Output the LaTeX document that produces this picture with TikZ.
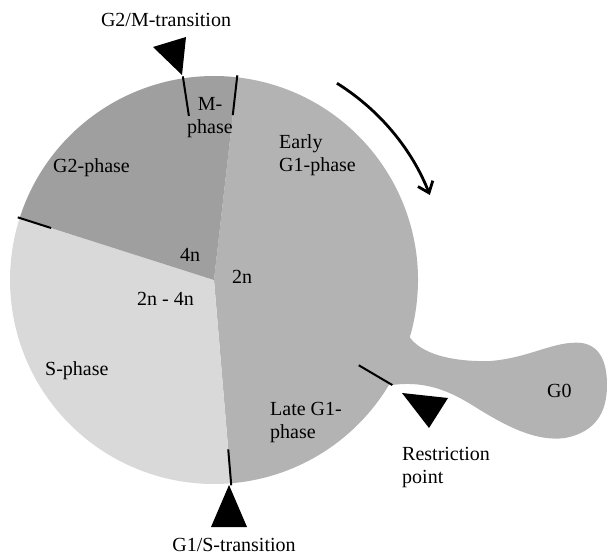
\documentclass[tikz,border=0pt]{standalone}
\usepackage{fontspec}
\setmainfont{Liberation Serif}
\usetikzlibrary{arrows.meta}
\definecolor{gdark}{HTML}{9F9F9F}
\definecolor{gmid}{HTML}{B3B3B3}
\definecolor{glight}{HTML}{D9D9D9}
\tikzset{
  lbl/.style={font=\fontsize{20bp}{23bp}\selectfont, inner sep=0pt, align=left},
  clbl/.style={font=\fontsize{20bp}{23bp}\selectfont, inner sep=0pt, align=center},
  tickline/.style={line width=2bp, black},
  marker/.style={fill=black, draw=none},
  cyclearrow/.style={line width=2.8bp, -{Straight Barb[length=10bp,width=16bp]}},
}
\begin{document}
\begin{tikzpicture}[x=1bp,y=-1bp]
\useasboundingbox (0,0) rectangle (607,557);
\coordinate (C) at (214,280);
% G0 lobe
\fill[gmid] (395,320) -- (412,340) .. controls (425,355) and (455,362) .. (490,361)
  .. controls (530,358) and (555,340) .. (582,343)
  .. controls (600,346) and (607,362) .. (607,385)
  .. controls (607,412) and (596,432) .. (565,438)
  .. controls (535,442) and (505,425) .. (480,410)
  .. controls (455,394) and (430,380) .. (392,385) -- (370,360) -- cycle;
% sectors
\fill[gmid] (C) -- ++(-83.5:204) arc (-83.5:85.2:204) -- cycle;
\fill[glight] (C) -- ++(85.2:204) arc (85.2:197.7:204) -- cycle;
\fill[gdark] (C) -- ++(197.7:204) arc (197.7:276.5:204) -- cycle;
% tick coordinates
\path (C) ++(261.3:206) coordinate (gmo);
\path (C) ++(261.3:166) coordinate (gmi);
\path (C) ++(276.5:206) coordinate (mgo);
\path (C) ++(276.5:166) coordinate (mgi);
\path (C) ++(85.2:206) coordinate (gso);
\path (C) ++(85.2:170) coordinate (gsi);
\path (C) ++(197.7:206) coordinate (sgo);
\path (C) ++(197.7:171) coordinate (sgi);
\path (C) ++(30.5:207) coordinate (rpo);
\path (C) ++(30.5:168) coordinate (rpi);
\draw[tickline] (gmo) -- (gmi);
\draw[tickline] (mgo) -- (mgi);
\draw[tickline] (gso) -- (gsi);
\draw[tickline] (sgo) -- (sgi);
\draw[tickline] (rpo) -- (rpi);
% cycle arrow
\path (C) ++(-58:232) coordinate (arrs);
\draw[cyclearrow] (arrs) arc (-58:-21.5:232);
% markers
\fill[marker] (153,47) -- (186,37) -- (182,75) -- cycle;
\fill[marker] (229,485) -- (247,527) -- (211,527) -- cycle;
\fill[marker] (402,393) -- (448,398) -- (429,428) -- cycle;
% labels
\node[clbl, anchor=base] (gmt) at (166,27) {G2/M-transition};
\node[clbl, anchor=base] (gst) at (234,551) {G1/S-transition};
\node[clbl, anchor=north] (mph) at (210,97) {M-\\phase};
\node[lbl, anchor=north west] (eg1) at (279,134) {Early\\G1-phase};
\node[lbl, anchor=base west] (g2p) at (53,173) {G2-phase};
\node[lbl, anchor=base west] (n4) at (180,261) {4n};
\node[lbl, anchor=base west] (n2) at (232,283) {2n};
\node[lbl, anchor=base west] (n24) at (137,305) {2n - 4n};
\node[lbl, anchor=base west] (sph) at (45,375) {S-phase};
\node[lbl, anchor=north west] (lg1) at (270,402) {Late G1-\\phase};
\node[lbl, anchor=north west] (rpt) at (402,447) {Restriction\\point};
\node[lbl, anchor=base west] (g0) at (547,397) {G0};
\end{tikzpicture}
\end{document}
